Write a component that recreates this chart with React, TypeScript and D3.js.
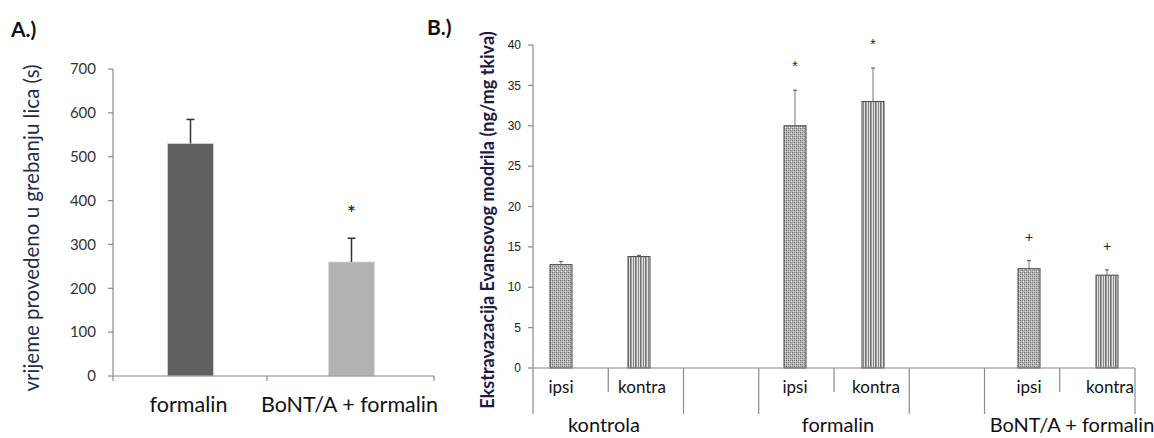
import React from "react";
import * as d3 from "d3";

// ---------- Panel A data ----------
const aCategories = ["formalin", "BoNT/A + formalin"];
const aValues = [530, 260];
const aErrors = [55, 54];
const aMarks = ["", "*"];
const aColors = ["#606060", "#b2b2b2"];
const aTicks = [0, 100, 200, 300, 400, 500, 600, 700];

// ---------- Panel B data ----------
const bSlots = ["k-ipsi", "k-kontra", "gap1", "f-ipsi", "f-kontra", "gap2", "b-ipsi", "b-kontra"];
const bSlotLabels = ["ipsi", "kontra", "", "ipsi", "kontra", "", "ipsi", "kontra"];
const bGroups = ["kontrola", "formalin", "BoNT/A + formalin"];
const bGroupSlots = [["k-ipsi", "k-kontra"], ["f-ipsi", "f-kontra"], ["b-ipsi", "b-kontra"]];
const bBarSlots = ["k-ipsi", "k-kontra", "f-ipsi", "f-kontra", "b-ipsi", "b-kontra"];
const bBarTypes = ["ipsi", "kontra", "ipsi", "kontra", "ipsi", "kontra"];
const bValues = [12.8, 13.8, 30.0, 33.0, 12.3, 11.5];
const bErrors = [0.4, 0.15, 4.4, 4.15, 1.0, 0.65];
const bMarks = ["", "", "*", "*", "+", "+"];
const bTicks = [0, 5, 10, 15, 20, 25, 30, 35, 40];
// boundaries between slots: long (group) or short (within group)
const bBoundaryLong = [true, false, true, true, false, true, true, false, true];

const FONT = "Lato, 'Open Sans', sans-serif";
const ARIAL = "'Liberation Sans', Arial, sans-serif";

export default function App() {
  // Panel A scales
  const ay = d3.scaleLinear().domain([0, 700]).range([376, 69]);
  const ax = d3.scaleBand().domain(aCategories).range([110, 432]);
  const aAxisX0 = 113, aAxisX1 = 434;
  const aBarW = 46;

  // Panel B scales
  const by = d3.scaleLinear().domain([0, 40]).range([368, 45]);
  const bAxis = d3.scaleBand().domain(bSlots).range([533, 1135]);
  const bBar = d3.scaleBand().domain(bSlots).range([522, 1146]);
  const bBarW = 22;
  const bBoundaries = bSlots.map((s) => bAxis(s) as number).concat([1135]);

  const axisColor = "#8a8a8a";

  return (
    <svg width={1154} height={438} style={{ position: "absolute", left: 0, top: 0, background: "#fff" }}>
      <defs>
        <pattern id="ipsi" width="4" height="4" patternUnits="userSpaceOnUse">
          <rect width="4" height="4" fill="#b8b8b8" />
          <rect x="0" y="0" width="1" height="1" fill="#6a6a6a" />
          <rect x="2" y="2" width="1" height="1" fill="#6a6a6a" />
          <rect x="1" y="3" width="1" height="1" fill="#e2e2e2" />
          <rect x="3" y="1" width="1" height="1" fill="#e2e2e2" />
          <rect x="2" y="0" width="1" height="1" fill="#888" />
          <rect x="0" y="2" width="1" height="1" fill="#888" />
        </pattern>
        <pattern id="kontra" width="5" height="4" patternUnits="userSpaceOnUse">
          <rect width="5" height="4" fill="#e0e0e0" />
          <rect x="0" width="1" height="4" fill="#737373" />
          <rect x="1" width="1" height="4" fill="#a0a0a0" />
          <rect x="3" width="1" height="4" fill="#888" />
        </pattern>
      </defs>

      {/* ---------------- Panel A ---------------- */}
      <text x={11} y={37} fontFamily={FONT} fontWeight="bold" fontSize={21} fill="#111">A.)</text>

      <text
        transform={`translate(39,228) rotate(-90)`}
        textAnchor="middle"
        fontFamily={FONT}
        fontSize={20.5}
        fill="#1c2d4f"
      >
        vrijeme provedeno u grebanju lica (s)
      </text>

      {/* y axis */}
      <line x1={aAxisX0} x2={aAxisX0} y1={ay(700)} y2={ay(0)} stroke={axisColor} strokeWidth={1.2} />
      {aTicks.map((t) => (
        <g key={"at" + t}>
          <line x1={aAxisX0 - 5} x2={aAxisX0} y1={ay(t)} y2={ay(t)} stroke={axisColor} strokeWidth={1.2} />
          <text x={96} y={ay(t)} dy="0.35em" textAnchor="end" fontFamily={FONT} fontSize={15} fill="#333">
            {t}
          </text>
        </g>
      ))}

      {/* bars */}
      {aCategories.map((c, i) => {
        const cx = (ax(c) as number) + ax.bandwidth() / 2;
        const top = ay(aValues[i]);
        const errTop = ay(aValues[i] + aErrors[i]);
        return (
          <g key={"ab" + c}>
            <rect x={cx - aBarW / 2} y={top} width={aBarW} height={ay(0) - top} fill={aColors[i]} stroke="#d8d8d8" strokeWidth={0.8} />
            <line x1={cx} x2={cx} y1={top} y2={errTop} stroke="#333" strokeWidth={1.5} />
            <line x1={cx - 4} x2={cx + 4} y1={errTop} y2={errTop} stroke="#333" strokeWidth={1.5} />
            {aMarks[i] && (
              <text x={cx} y={errTop - 17} textAnchor="middle" fontFamily={FONT} fontSize={21} fill="#111">
                {aMarks[i]}
              </text>
            )}
          </g>
        );
      })}

      {/* x axis */}
      <line x1={aAxisX0} x2={aAxisX1} y1={ay(0)} y2={ay(0)} stroke={axisColor} strokeWidth={1.2} />
      {[aAxisX0, (ax(aCategories[1]) as number) - 4, aAxisX1].map((x, i) => (
        <line key={"axt" + i} x1={x} x2={x} y1={ay(0)} y2={ay(0) + 5} stroke={axisColor} strokeWidth={1.2} />
      ))}
      {aCategories.map((c) => (
        <text
          key={"al" + c}
          x={(ax(c) as number) + ax.bandwidth() / 2 - 2}
          y={412}
          textAnchor="middle"
          fontFamily={FONT}
          fontSize={21.5}
          fill="#111"
        >
          {c}
        </text>
      ))}

      {/* ---------------- Panel B ---------------- */}
      <text x={427} y={35} fontFamily={FONT} fontWeight="bold" fontSize={21} fill="#111">B.)</text>

      <text
        transform={`translate(494,220) rotate(-90)`}
        textAnchor="middle"
        fontFamily={FONT}
        fontWeight="bold"
        fontSize={18}
        fill="#1b1b48"
      >
        Ekstravazacija Evansovog modrila (ng/mg tkiva)
      </text>

      {/* y axis */}
      <line x1={533} x2={533} y1={by(40)} y2={by(0)} stroke={axisColor} strokeWidth={1.2} />
      {bTicks.map((t) => (
        <g key={"bt" + t}>
          <line x1={528} x2={533} y1={by(t)} y2={by(t)} stroke={axisColor} strokeWidth={1.2} />
          <text x={521} y={by(t)} dy="0.35em" textAnchor="end" fontFamily={ARIAL} fontSize={12} fill="#222">
            {t}
          </text>
        </g>
      ))}

      {/* bars */}
      {bBarSlots.map((s, i) => {
        const cx = (bBar(s) as number) + bBar.bandwidth() / 2;
        const top = by(bValues[i]);
        const errTop = by(bValues[i] + bErrors[i]);
        return (
          <g key={"bb" + s}>
            <line x1={cx} x2={cx} y1={top} y2={errTop} stroke="#777" strokeWidth={1} />
            <line x1={cx - 2} x2={cx + 2} y1={errTop} y2={errTop} stroke="#555" strokeWidth={1} />
            <rect
              x={cx - bBarW / 2}
              y={top}
              width={bBarW}
              height={by(0) - top}
              fill={`url(#${bBarTypes[i]})`}
              stroke="#4a4a4a"
              strokeWidth={1}
            />
            {bMarks[i] && (
              <text x={cx} y={errTop - 19} textAnchor="middle" fontFamily={ARIAL} fontSize={14} fill="#222">
                {bMarks[i]}
              </text>
            )}
          </g>
        );
      })}

      {/* x axis */}
      <line x1={533} x2={1135} y1={by(0)} y2={by(0)} stroke={axisColor} strokeWidth={1.2} />
      {bBoundaries.map((x, i) => (
        <line
          key={"bbd" + i}
          x1={x}
          x2={x}
          y1={by(0)}
          y2={bBoundaryLong[i] ? 414 : 392}
          stroke={axisColor}
          strokeWidth={1.2}
        />
      ))}
      {bSlots.map((s, i) =>
        bSlotLabels[i] ? (
          <text
            key={"bl" + s}
            x={(bBar(s) as number) + bBar.bandwidth() / 2 + (bSlotLabels[i] === "kontra" ? 3 : 0)}
            y={393}
            textAnchor="middle"
            fontFamily={FONT}
            fontSize={17}
            fill="#111"
          >
            {bSlotLabels[i]}
          </text>
        ) : null
      )}
      {bGroups.map((g, i) => {
        const [s0, s1] = bGroupSlots[i];
        const cx = ((bBar(s0) as number) + (bBar(s1) as number) + bBar.bandwidth()) / 2;
        return (
          <text key={"bg" + g} x={cx + 4} y={432} textAnchor="middle" fontFamily={FONT} fontSize={20} fill="#111">
            {g}
          </text>
        );
      })}
    </svg>
  );
}
